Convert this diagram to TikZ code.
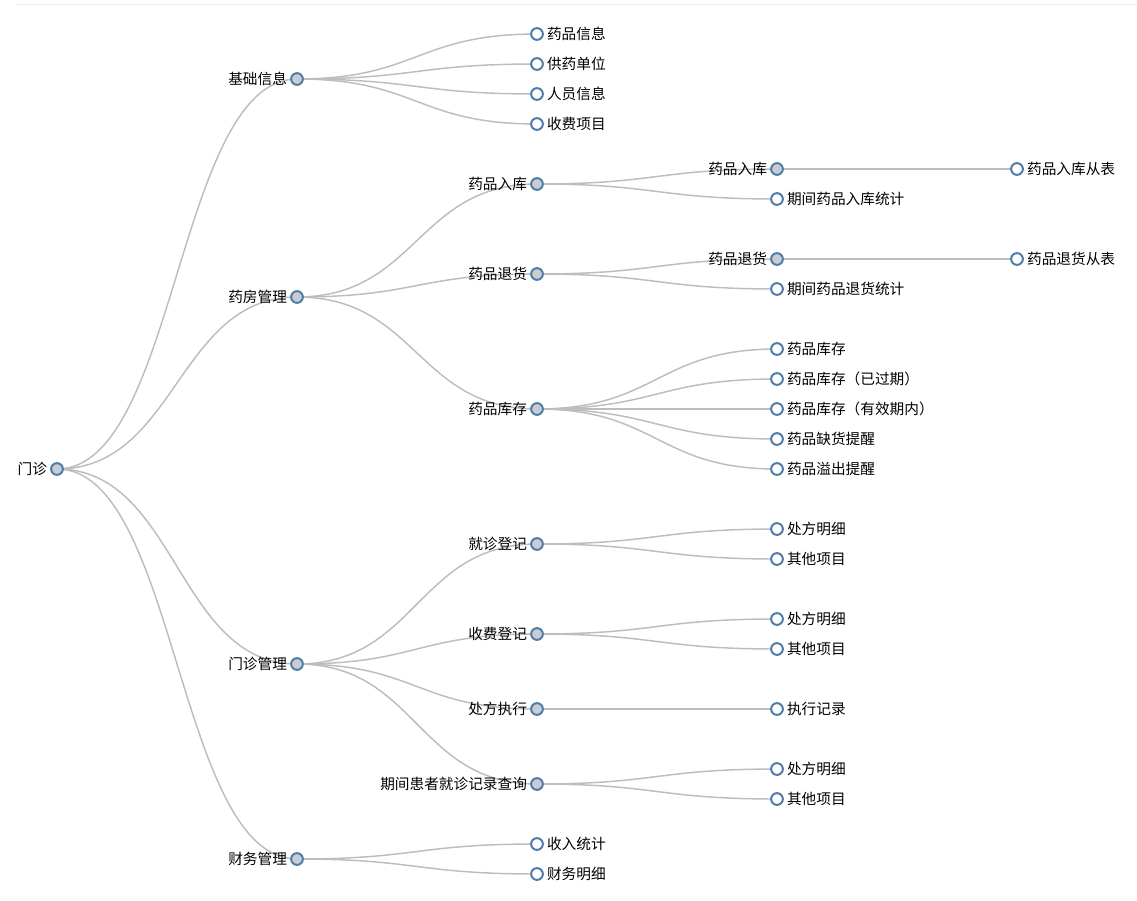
\documentclass[tikz,border=0pt]{standalone}
\usepackage{fontspec}
\setmainfont{Noto Sans CJK SC}
\usetikzlibrary{backgrounds}
\definecolor{nodeblue}{HTML}{4F7DAA}
\definecolor{nodefill}{HTML}{C9CDD3}
\definecolor{linkgray}{HTML}{BDBDBD}
\definecolor{topline}{HTML}{EEEEEE}
\begin{document}
\begin{tikzpicture}[x=0.75pt,y=-0.75pt,
  nd/.style={circle,draw=nodeblue,line width=1.5pt,minimum size=8.8pt,inner sep=0pt},
  par/.style={nd,fill=nodefill},
  leaf/.style={nd,fill=white},
  lbl/.style={inner sep=0pt,font=\fontsize{11pt}{13pt}\selectfont,text=black},
  lt/.style={label={[lbl]left:#1}},
  rt/.style={label={[lbl]right:#1}},
  label distance=2.2pt,
  link/.style={draw=linkgray,line width=1.1pt}]
\useasboundingbox (0,0) rectangle (1137,900);
\draw[topline,line width=0.75pt] (15,4) -- (1137,4);
% level 0
\node[par,lt=门诊] (root) at (57,469) {};
% level 1
\node[par,lt=基础信息] (a1) at (297,79) {};
\node[par,lt=药房管理] (a2) at (297,297) {};
\node[par,lt=门诊管理] (a3) at (297,664) {};
\node[par,lt=财务管理] (a4) at (297,859) {};
% 基础信息 children
\node[leaf,rt=药品信息] (a11) at (537,34) {};
\node[leaf,rt=供药单位] (a12) at (537,64) {};
\node[leaf,rt=人员信息] (a13) at (537,94) {};
\node[leaf,rt=收费项目] (a14) at (537,124) {};
% 药房管理
\node[par,lt=药品入库] (b1) at (537,184) {};
\node[par,lt=药品入库] (b11) at (777,169) {};
\node[leaf,rt=药品入库从表] (b111) at (1017,169) {};
\node[leaf,rt=期间药品入库统计] (b12) at (777,199) {};
\node[par,lt=药品退货] (b2) at (537,274) {};
\node[par,lt=药品退货] (b21) at (777,259) {};
\node[leaf,rt=药品退货从表] (b211) at (1017,259) {};
\node[leaf,rt=期间药品退货统计] (b22) at (777,289) {};
\node[par,lt=药品库存] (b3) at (537,409) {};
\node[leaf,rt=药品库存] (b31) at (777,349) {};
\node[leaf,rt=药品库存（已过期）] (b32) at (777,379) {};
\node[leaf,rt=药品库存（有效期内）] (b33) at (777,409) {};
\node[leaf,rt=药品缺货提醒] (b34) at (777,439) {};
\node[leaf,rt=药品溢出提醒] (b35) at (777,469) {};
% 门诊管理
\node[par,lt=就诊登记] (c1) at (537,544) {};
\node[leaf,rt=处方明细] (c11) at (777,529) {};
\node[leaf,rt=其他项目] (c12) at (777,559) {};
\node[par,lt=收费登记] (c2) at (537,634) {};
\node[leaf,rt=处方明细] (c21) at (777,619) {};
\node[leaf,rt=其他项目] (c22) at (777,649) {};
\node[par,lt=处方执行] (c3) at (537,709) {};
\node[leaf,rt=执行记录] (c31) at (777,709) {};
\node[par,lt=期间患者就诊记录查询] (c4) at (537,784) {};
\node[leaf,rt=处方明细] (c41) at (777,769) {};
\node[leaf,rt=其他项目] (c42) at (777,799) {};
% 财务管理
\node[leaf,rt=收入统计] (d1) at (537,844) {};
\node[leaf,rt=财务明细] (d2) at (537,874) {};
\begin{pgfonlayer}{background}
\foreach \s/\t in {root/a1,root/a2,root/a3,root/a4,
  a1/a11,a1/a12,a1/a13,a1/a14,
  a2/b1,a2/b2,a2/b3,
  b1/b11,b1/b12,b11/b111,
  b2/b21,b2/b22,b21/b211,
  b3/b31,b3/b32,b3/b33,b3/b34,b3/b35,
  a3/c1,a3/c2,a3/c3,a3/c4,
  c1/c11,c1/c12,c2/c21,c2/c22,c3/c31,c4/c41,c4/c42,
  a4/d1,a4/d2}
  \draw[link] (\s.center) .. controls +(120,0) and +(-120,0) .. (\t.center);
\end{pgfonlayer}
\end{tikzpicture}
\end{document}
